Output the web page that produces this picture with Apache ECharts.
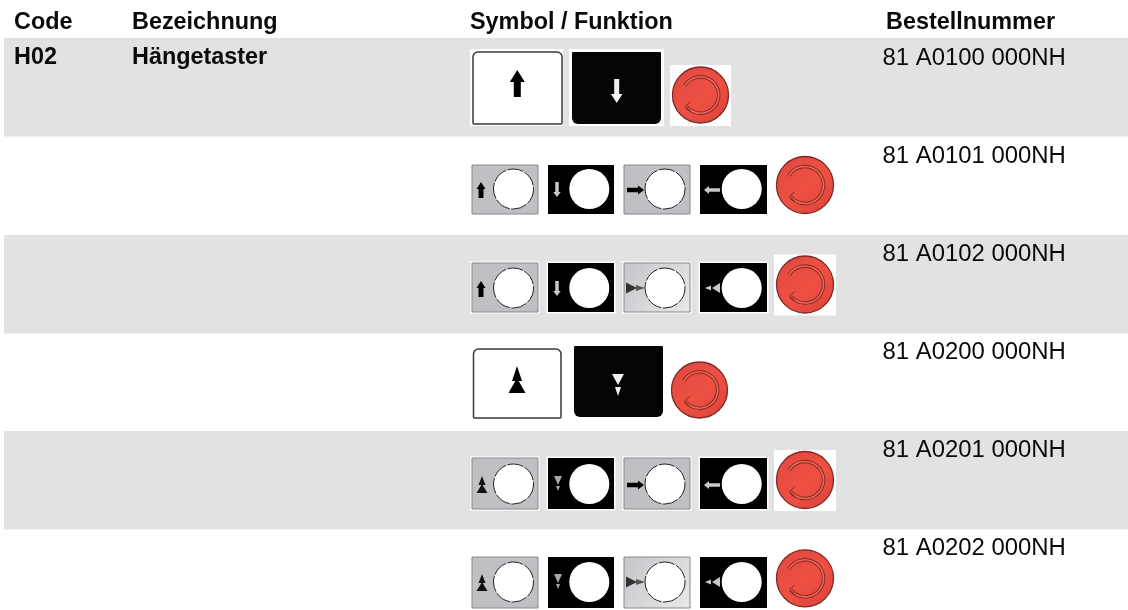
<!DOCTYPE html>
<html><head><meta charset="utf-8">
<style>html,body{margin:0;padding:0;background:#fff}#c{width:1128px;height:610px}</style>
<script src="https://cdn.jsdelivr.net/npm/echarts@6/dist/echarts.min.js"></script>
</head><body><div id="c"></div>
<script>
const headers = ['Code','Bezeichnung','Symbol / Funktion','Bestellnummer'];
const codes = ['H02','','','','',''];
const names = ['Hängetaster','','','','',''];
const orderNumbers = ['81 A0100 000NH','81 A0101 000NH','81 A0102 000NH','81 A0200 000NH','81 A0201 000NH','81 A0202 000NH'];
const rowSymbols = [
  ['up','down'],
  ['up','down','right','left'],
  ['up','down','rightFast','leftFast'],
  ['upFast','downFast'],
  ['upFast','downFast','right','left'],
  ['upFast','downFast','rightFast','leftFast']
];

const FONT='"Liberation Sans",Arial,sans-serif';
const colX=[14,132,470,886];
const rowTop=[38,136.5,235,333,431,530];
const rowH=98.5;
const textY=[58,156.5,254.5,352.5,450.5,548.5];
const GREY='#e2e2e2';

function make(api){
  const P=(x,y)=>api.coord([x,y]);
  const rect=(x0,y0,x1,y1,fill,extra)=>{const a=P(x0,y0),b=P(x1,y1);
    return Object.assign({type:'rect',shape:{x:a[0],y:a[1],width:b[0]-a[0],height:b[1]-a[1],r:(extra&&extra.r)||0},style:{fill,stroke:(extra&&extra.stroke)||null,lineWidth:(extra&&extra.lw)||0}})};
  const poly=(pts,fill)=>({type:'polygon',shape:{points:pts.map(p=>P(p[0],p[1]))},style:{fill}});
  const text=(x,y,t,bold)=>{const a=P(x,y);return {type:'text',style:{x:a[0],y:a[1],text:t,fill:'#0a0a0a',font:(bold?'bold 23.4px ':'23.9px ')+FONT,align:'left',verticalAlign:'middle'}}};
  return {P,rect,poly,text};
}
/* vertical arrow: tip at y0, tail at y1 */
function vArrow(m,cx,y0,y1,headW,headH,shaftW,fill){
  const s=y1>y0?1:-1,sh=shaftW/2,hw=headW/2;
  return m.poly([[cx,y0],[cx+hw,y0+s*headH],[cx+sh,y0+s*headH],[cx+sh,y1],[cx-sh,y1],[cx-sh,y0+s*headH],[cx-hw,y0+s*headH]],fill);
}
function hArrow(m,x0,x1,cy,headW,headH,shaftW,fill){
  const s=x1>x0?1:-1,sh=shaftW/2,hw=headW/2;
  return m.poly([[x0,cy],[x0+s*headH,cy+hw],[x0+s*headH,cy+sh],[x1,cy+sh],[x1,cy-sh],[x0+s*headH,cy-sh],[x0+s*headH,cy-hw]],fill);
}
function tri(m,cx,tip,base,w,fill){return m.poly([[cx,tip],[cx+w/2,base],[cx-w/2,base]],fill);}
function triH(m,tip,base,cy,h,fill){return m.poly([[tip,cy],[base,cy+h/2],[base,cy-h/2]],fill);}

function stop(m,api,cx,cy,r,box){
  const out=[];
  if(box) out.push(m.rect(box[0],box[1],box[2],box[3],'#fff'));
  const c=m.P(cx,cy),ri=r*0.65;
  out.push({type:'circle',shape:{cx:c[0],cy:c[1],r:r},style:{
    fill:new echarts.graphic.LinearGradient(0.1,0,0.9,1,[{offset:0,color:'#e2473f'},{offset:0.55,color:'#ee5043'},{offset:1,color:'#dc423a'}]),
    stroke:'#7d2a24',lineWidth:1.3}});
  const s=Math.PI*1.167,e=Math.PI*0.78;
  out.push({type:'arc',shape:{cx:c[0],cy:c[1],r:ri,startAngle:s,endAngle:e,clockwise:true},style:{fill:null,stroke:'#84261f',lineWidth:3.4}});
  out.push({type:'arc',shape:{cx:c[0],cy:c[1],r:ri,startAngle:s,endAngle:e,clockwise:true},style:{fill:null,stroke:'#ea6a5c',lineWidth:1.6}});
  const ax=cx+ri*Math.cos(e),ay=cy+ri*Math.sin(e);
  out.push({type:'polyline',shape:{points:[m.P(ax+4,ay-5),m.P(ax-1,ay-0.5),m.P(ax+4,ay+4.5)]},style:{fill:null,stroke:'#84261f',lineWidth:1}});
  return out;
}
function bigKeys(m,row,sym){
  const L=row===0
    ? {wb:[470,49,563,126],k:[473,52,562,124],db:[569,49,664,126],d:[572,52,661,124],s:[700.5,95,28],sb:[670,65,731,126],c:[517.3,616.7]}
    : {wb:null,k:[473.5,349,561,418],db:null,d:[574,346,663,417],s:[699.5,390,28],sb:null,c:[517,618]};
  const out=[];
  if(L.wb) out.push(m.rect(...L.wb,'#fff'));
  out.push(m.rect(...L.k,'#fff',{stroke:'#3a3a3a',lw:1.5,r:[5,5,1,1]}));
  if(L.db) out.push(m.rect(...L.db,'#fff'));
  out.push(m.rect(...L.d,'#040404',{r:[1,1,6,6]}));
  if(sym[0]==='up'){
    out.push(vArrow(m,L.c[0],70,97,15,12,7,'#000'));
    out.push(vArrow(m,L.c[1],103,79,11.5,9,5,'#f0f0f0'));
  }else{
    out.push(tri(m,L.c[0],366,381,10,'#000'));
    out.push(tri(m,L.c[0],378,393,17,'#000'));
    out.push(tri(m,L.c[1],385,374,12,'#f0f0f0'));
    out.push(tri(m,L.c[1],396,387,6,'#f0f0f0'));
  }
  return out.concat(stop(m,null,L.s[0],L.s[1],L.s[2],L.sb));
}
function smallPlates(m,row,sym){
  const Y={1:[165,214,189,185],2:[263,312,288,284.5],4:[458,509,484,480],5:[557,608,582,578.3]}[row];
  const boxed=row===2||row===4;
  const X=[[472,538,513.5],[548,614,589.3],[624,690,665],[700,767,741.7]];
  const out=[];
  sym.forEach((g,i)=>{
    const [x0,x1,cx]=X[i],dark=i%2===1,[y0,y1,cy]=Y;
    const fast=g==='rightFast';
    if(boxed) out.push(m.rect(x0-1.5,y0-1.5,x1+1.5,y1+1.5,'#fff'));
    out.push(m.rect(x0,y0,x1,y1,dark?'#000':(fast?new echarts.graphic.LinearGradient(0,0,1,1,[{offset:0,color:'#c4c5c8'},{offset:1,color:'#e9e9eb'}]):'#bfc0c3'),dark?null:{stroke:'#88888a',lw:1}));
    const c=m.P(cx,cy);
    out.push({type:'circle',shape:{cx:c[0],cy:c[1],r:20},style:{fill:'#fff',stroke:dark?null:'#222',lineWidth:dark?0:1,lineDash:dark?null:[16,1.5]}});
    const mid=cy;
    if(g==='up') out.push(vArrow(m,481,cy-7,cy+9,9,7,5,'#000'));
    if(g==='down') out.push(vArrow(m,557,cy+8,cy-7,7.5,5,3.5,'#c8c8c8'));
    if(g==='right') out.push(hArrow(m,644,627,mid+1,9,6,4.5,'#000'));
    if(g==='left') out.push(hArrow(m,704,720,mid+1,8,5,3.5,'#c8c8c8'));
    if(g==='upFast'){out.push(tri(m,482,cy-8,cy+1,7,'#111'));out.push(tri(m,482,cy,cy+9,11,'#111'));}
    if(g==='downFast'){out.push(tri(m,558,cy+1,cy-8,8,'#a8a8a8'));out.push(tri(m,558,cy+7,cy+2,4,'#a8a8a8'));}
    if(g==='rightFast'){out.push(triH(m,637,626,mid,11,'#333'));out.push(triH(m,645,636,mid,6,'#555'));}
    if(g==='leftFast'){out.push(triH(m,705,711,mid,5,'#c8c8c8'));out.push(triH(m,712,720,mid,10,'#c8c8c8'));}
  });
  const s=stop(m,null,805,Y[3],28.5,boxed?[774,Y[3]-30,836,Y[3]+31]:null);
  return out.concat(s);
}
function renderRow(p,api){
  const row=api.value(0),m=make(api),kids=[];
  if(row%2===0) kids.push(m.rect(4,rowTop[row],1128,rowTop[row]+rowH,GREY));
  const sym=rowSymbols[row];
  const icons=sym.length===2?bigKeys(m,row,sym):smallPlates(m,row,sym);
  icons.forEach(e=>kids.push(e));
  if(codes[row]) kids.push(m.text(colX[0],textY[row],codes[row],true));
  if(names[row]) kids.push(m.text(colX[1],textY[row],names[row],true));
  kids.push(m.text(882.5,textY[row],orderNumbers[row],false));
  return {type:'group',children:kids};
}
function renderHead(p,api){
  const i=api.value(0),m=make(api);
  return m.text(colX[i],23,headers[i],true);
}
const chart=echarts.init(document.getElementById('c'),null,{renderer:'canvas'});
chart.setOption({
  animation:false,
  grid:{left:0,right:0,top:0,bottom:0},
  xAxis:{type:'value',min:0,max:1128,show:false},
  yAxis:{type:'value',min:0,max:610,inverse:true,show:false},
  series:[
    {type:'custom',coordinateSystem:'cartesian2d',clip:false,silent:true,data:headers.map((h,i)=>[i,0]),encode:{x:0,y:1},renderItem:renderHead},
    {type:'custom',coordinateSystem:'cartesian2d',clip:false,silent:true,data:orderNumbers.map((h,i)=>[i,0]),encode:{x:0,y:1},renderItem:renderRow}
  ]
});
</script></body></html>
